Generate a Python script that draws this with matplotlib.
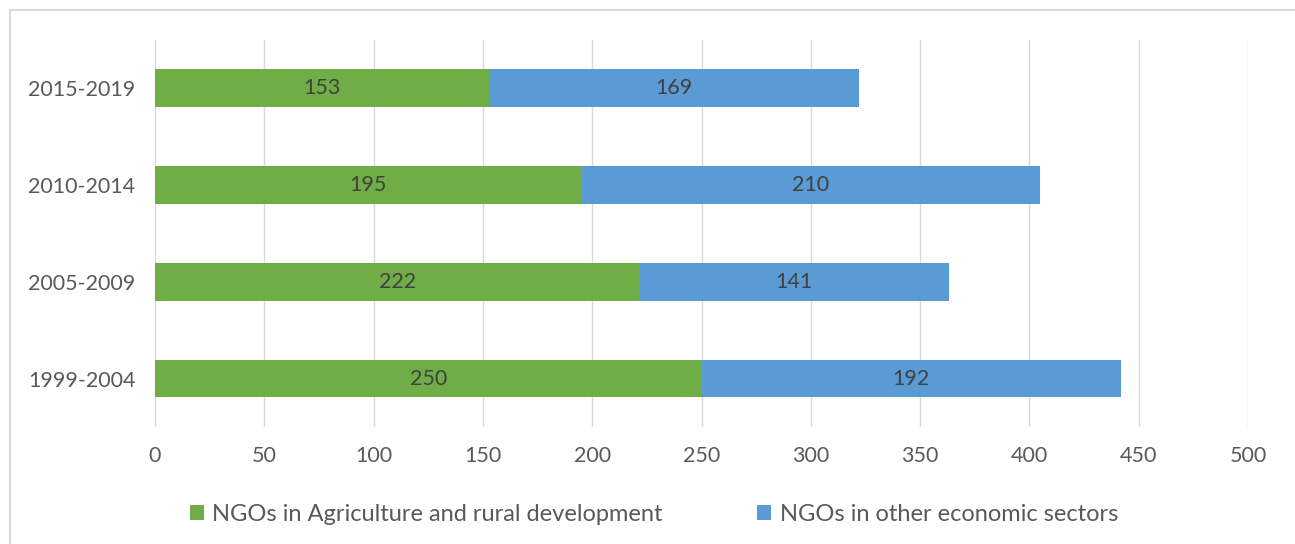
import matplotlib
matplotlib.use("Agg")
import matplotlib.pyplot as plt
from matplotlib.patches import Rectangle

periods = ["1999-2004", "2005-2009", "2010-2014", "2015-2019"]
agri = [250, 222, 195, 153]
other = [192, 141, 210, 169]
labels = ["NGOs in Agriculture and rural development", "NGOs in other economic sectors"]

green = "#70AD47"
blue = "#5B9BD5"
gray = "#595959"

plt.rcParams['font.family'] = ['Lato', 'DejaVu Sans']

fig = plt.figure(figsize=(12.95, 5.44), dpi=100)
ax = fig.add_axes([0.1197, 0.2151, 0.8440, 0.7114])

# chart border
fig.patches.append(Rectangle((10 / 1295, -0.1), 1.2, 1 - 10 / 544 + 0.1,
                             transform=fig.transFigure, fill=False,
                             edgecolor="#D9D9D9", linewidth=1.5))

y = range(len(periods))
b1 = ax.barh(y, agri, height=0.39, color=green, label=labels[0])
b2 = ax.barh(y, other, left=agri, height=0.39, color=blue, label=labels[1])
ax.bar_label(b1, label_type="center", fontsize=15.5, color="#404040")
ax.bar_label(b2, label_type="center", fontsize=15.5, color="#404040")

ax.set_xlim(0, 500)
ax.set_ylim(-0.5, 3.5)
ax.set_xticks(range(0, 501, 50))
ax.set_yticks(list(y))
ax.set_yticklabels(periods)
ax.tick_params(axis="both", length=0, labelsize=15.5, labelcolor=gray)
ax.tick_params(axis="x", pad=14)
ax.tick_params(axis="y", pad=14)
ax.grid(axis="x", color="#D9D9D9", linewidth=1)
ax.set_axisbelow(True)
for s in ax.spines.values():
    s.set_visible(False)

fig.legend(loc="center", bbox_to_anchor=(0.505, 0.055), ncol=2, frameon=False,
           fontsize=17, labelcolor=gray, handlelength=0.6, handleheight=0.6,
           handletextpad=0.35, columnspacing=4.0)

fig.savefig("out.png", dpi=100)
